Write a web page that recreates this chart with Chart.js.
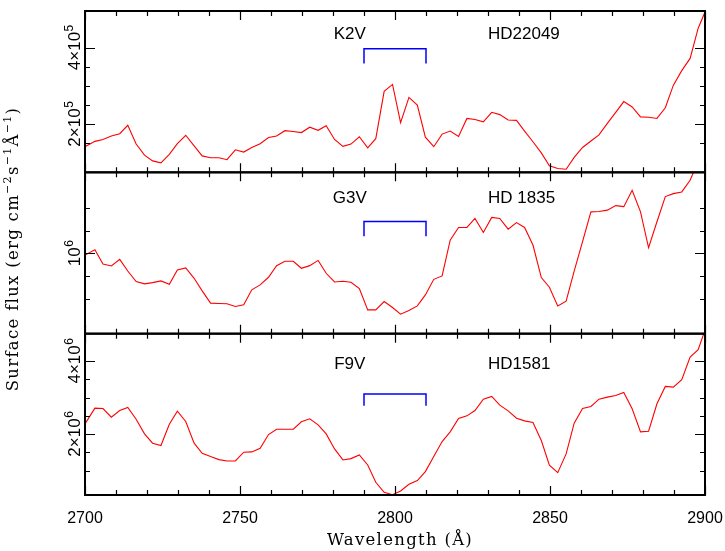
<!DOCTYPE html>
<html>
<head>
<meta charset="utf-8">
<script src="https://cdn.jsdelivr.net/npm/chart.js@4.4.1/dist/chart.umd.min.js"></script>
<style>
  html, body { margin: 0; padding: 0; background: #fff; }
  #wrap { width: 725px; height: 551px; }
</style>
</head>
<body>
<div id="wrap"><canvas id="flux" width="725" height="551"></canvas></div>
<script>
// wavelength grid shared by the three spectra (Angstrom)
const wavelength = [
  2700.0, 2703.2, 2705.8, 2708.5, 2711.2, 2713.8, 2716.5, 2719.2, 2721.8, 2724.5,
  2727.2, 2729.8, 2732.5, 2735.2, 2737.8, 2740.5, 2743.2, 2745.8, 2748.5, 2751.2,
  2753.8, 2756.5, 2759.2, 2761.8, 2764.5, 2767.2, 2769.8, 2772.5, 2775.2, 2777.8,
  2780.5, 2783.2, 2785.8, 2788.5, 2791.2, 2793.8, 2796.5, 2799.2, 2801.8, 2804.5,
  2807.2, 2809.8, 2812.5, 2815.2, 2817.8, 2820.5, 2823.2, 2825.8, 2828.5, 2831.2,
  2833.8, 2836.5, 2839.2, 2841.8, 2844.5, 2847.2, 2849.8, 2852.5, 2855.2, 2857.8,
  2860.5, 2863.2, 2865.8, 2868.5, 2871.2, 2873.8, 2876.5, 2879.2, 2881.8, 2884.5,
  2887.2, 2889.8, 2892.5, 2895.2, 2897.8, 2900.5
];
// surface flux, K2V in units of 1e5, G3V and F9V in units of 1e6
const fluxK2V = [
  1.41, 1.55, 1.60, 1.69, 1.75, 1.97, 1.48, 1.19, 1.04, 0.99,
  1.21, 1.49, 1.71, 1.43, 1.17, 1.12, 1.12, 1.07, 1.33, 1.27,
  1.39, 1.49, 1.65, 1.69, 1.83, 1.81, 1.78, 1.92, 1.84, 1.96,
  1.60, 1.42, 1.48, 1.67, 1.38, 1.62, 2.86, 3.04, 2.04, 2.70,
  2.50, 1.66, 1.41, 1.74, 1.82, 1.68, 2.15, 2.12, 2.06, 2.31,
  2.25, 2.11, 2.10, 1.82, 1.54, 1.25, 0.91, 0.84, 0.82, 1.13,
  1.39, 1.56, 1.72, 2.02, 2.31, 2.59, 2.45, 2.19, 2.18, 2.15,
  2.43, 3.02, 3.40, 3.72, 4.51, 5.03
];
const fluxG3V = [
  0.985, 1.032, 0.906, 0.889, 0.947, 0.845, 0.752, 0.732, 0.743, 0.758,
  0.729, 0.855, 0.872, 0.781, 0.671, 0.563, 0.560, 0.557, 0.534, 0.548,
  0.680, 0.723, 0.790, 0.892, 0.930, 0.930, 0.869, 0.892, 0.938, 0.825,
  0.749, 0.755, 0.746, 0.691, 0.504, 0.504, 0.577, 0.525, 0.466, 0.498,
  0.539, 0.635, 0.772, 0.802, 1.116, 1.227, 1.227, 1.306, 1.183, 1.315,
  1.306, 1.212, 1.270, 1.227, 1.073, 0.787, 0.703, 0.539, 0.580, 0.843,
  1.102, 1.364, 1.367, 1.379, 1.419, 1.410, 1.553, 1.364, 1.049, 1.277,
  1.498, 1.524, 1.539, 1.641, 1.807, 1.950
];
const fluxF9V = [
  2.282, 2.711, 2.702, 2.465, 2.647, 2.730, 2.410, 2.008, 1.753, 1.689,
  2.273, 2.629, 2.346, 1.753, 1.479, 1.387, 1.305, 1.268, 1.268, 1.506,
  1.515, 1.616, 1.990, 2.136, 2.136, 2.136, 2.337, 2.419, 2.255, 2.008,
  1.597, 1.296, 1.332, 1.433, 1.159, 0.684, 0.410, 0.346, 0.447, 0.629,
  0.730, 0.976, 1.387, 1.798, 2.063, 2.428, 2.501, 2.647, 2.958, 3.031,
  2.794, 2.638, 2.438, 2.364, 2.319, 1.826, 1.150, 0.949, 1.460, 2.301,
  2.702, 2.757, 2.958, 3.013, 3.058, 3.141, 2.693, 2.063, 2.081, 2.830,
  3.305, 3.287, 3.488, 4.109, 4.310, 4.970
];

const spectralTypes = ['K2V', 'G3V', 'F9V'];
const starNames = ['HD22049', 'HD 1835', 'HD1581'];

// Mg II h+k window bracket
const bracketX = [2790, 2810];
const bracketTop = [3.97, 1.28, 3.10];
const bracketFoot = [3.59, 1.15, 2.78];

const xTickLabels = [2700, 2750, 2800, 2850, 2900];
const yTickValues = [[2, 4], [1], [2, 4]];
const yTickLabels = [['2×10⁵', '4×10⁵'], ['10⁶'], ['2×10⁶', '4×10⁶']];
const xTitle = 'Wavelength (Å)';
const yTitleParts = [['Surface flux (erg cm', 0], ['−2', 1], ['s', 0], ['−1', 1], ['Å', 0], ['−1', 1], [')', 0]];

const panels = [
  { id: 'yTop', flux: fluxK2V, min: 0.74, max: 4.96, step: 0.5 },
  { id: 'yMid', flux: fluxG3V, min: 0.295, max: 1.711, step: 0.2 },
  { id: 'yBot', flux: fluxF9V, min: 0.337, max: 4.748, step: 0.5 }
];

const SANS = '"Liberation Sans", Arial, sans-serif';
const SERIF = '"DejaVu Serif", serif';
const SUP = { '⁰': '0', '¹': '1', '²': '2', '³': '3', '⁴': '4', '⁵': '5', '⁶': '6', '⁷': '7', '⁸': '8', '⁹': '9' };

function drawPower(ctx, text, x, y) {
  let i = text.length;
  while (i > 0 && SUP[text[i - 1]]) i--;
  const base = text.slice(0, i);
  const sup = [...text.slice(i)].map(c => SUP[c]).join('');
  ctx.font = '17px ' + SANS;
  const wb = ctx.measureText(base).width;
  ctx.font = '12px ' + SANS;
  const ws = ctx.measureText(sup).width;
  ctx.save();
  ctx.translate(x, y);
  ctx.rotate(-Math.PI / 2);
  const x0 = -(wb + ws) / 2;
  ctx.textAlign = 'left';
  ctx.textBaseline = 'alphabetic';
  ctx.font = '17px ' + SANS;
  ctx.fillText(base, x0, 0);
  ctx.font = '12px ' + SANS;
  ctx.fillText(sup, x0 + wb + 0.5, -7.5);
  ctx.restore();
}

const framePlugin = {
  id: 'frames',
  beforeDatasetDraw(chart, args) {
    const ys = chart.scales[chart.data.datasets[args.index].yAxisID];
    const a = chart.chartArea;
    chart.ctx.save();
    chart.ctx.beginPath();
    chart.ctx.rect(a.left, ys.top, a.right - a.left, ys.bottom - ys.top);
    chart.ctx.clip();
  },
  afterDatasetDraw(chart) {
    chart.ctx.restore();
  },
  afterDraw(chart) {
    const ctx = chart.ctx, a = chart.chartArea, xs = chart.scales.x;
    ctx.save();
    ctx.strokeStyle = '#000';
    ctx.fillStyle = '#000';
    panels.forEach((p, k) => {
      const ys = chart.scales[p.id];
      ctx.lineWidth = 1.2;
      ctx.beginPath();
      xs.ticks.forEach(t => {
        const px = Math.round(xs.getPixelForValue(t.value)) + 0.5;
        const len = xTickLabels.includes(t.value) ? 9 : 5;
        ctx.moveTo(px, ys.top); ctx.lineTo(px, ys.top + len);
        ctx.moveTo(px, ys.bottom); ctx.lineTo(px, ys.bottom - len);
      });
      ys.ticks.forEach(t => {
        const n = t.value / p.step;
        if (Math.abs(n - Math.round(n)) > 1e-6) return;
        const py = Math.round(ys.getPixelForValue(t.value)) + 0.5;
        const major = yTickValues[k].some(v => Math.abs(v - t.value) < 1e-6);
        const len = major ? 10 : 5;
        ctx.moveTo(a.left, py); ctx.lineTo(a.left + len, py);
        ctx.moveTo(a.right, py); ctx.lineTo(a.right - len, py);
      });
      ctx.stroke();
      ctx.lineWidth = 2;
      ctx.strokeRect(a.left, ys.top, a.right - a.left, ys.bottom - ys.top);

      yTickValues[k].forEach((v, j) => {
        drawPower(ctx, yTickLabels[k][j], a.left - 5, ys.getPixelForValue(v));
      });

      // star labels
      const ly = ys.getPixelForValue([4.385, 1.495, 3.945][k]) + 6;
      ctx.font = '17px ' + SANS;
      ctx.textBaseline = 'alphabetic';
      ctx.textAlign = 'center';
      ctx.fillText(spectralTypes[k], xs.getPixelForValue(2785.4), ly);
      ctx.textAlign = 'left';
      ctx.fillText(starNames[k], xs.getPixelForValue(2830), ly);
    });

    // axis titles
    ctx.letterSpacing = '1.3px';
    ctx.font = '16.5px ' + SERIF;
    ctx.textAlign = 'center';
    ctx.textBaseline = 'alphabetic';
    ctx.fillText(xTitle, (a.left + a.right) / 2 + 5, 545);

    ctx.save();
    ctx.translate(18, 249);
    ctx.rotate(-Math.PI / 2);
    let total = 0;
    yTitleParts.forEach(([s, sup]) => {
      ctx.font = (sup ? '11px ' : '16.5px ') + SERIF;
      total += ctx.measureText(s).width;
    });
    let cx = -total / 2;
    ctx.textAlign = 'left';
    yTitleParts.forEach(([s, sup]) => {
      ctx.font = (sup ? '11px ' : '16.5px ') + SERIF;
      ctx.fillText(s, cx, sup ? -7 : 0);
      cx += ctx.measureText(s).width;
    });
    ctx.restore();
    ctx.restore();
  }
};

const datasets = [];
panels.forEach((p, k) => {
  datasets.push({
    data: wavelength.map((w, i) => ({ x: w, y: p.flux[i] })),
    yAxisID: p.id,
    borderColor: '#ff0000',
    borderWidth: 1.1,
    pointRadius: 0,
    tension: 0,
    fill: false
  });
  datasets.push({
    data: [
      { x: bracketX[0], y: bracketFoot[k] },
      { x: bracketX[0], y: bracketTop[k] },
      { x: bracketX[1], y: bracketTop[k] },
      { x: bracketX[1], y: bracketFoot[k] }
    ],
    yAxisID: p.id,
    borderColor: '#0000ff',
    borderWidth: 1.5,
    pointRadius: 0,
    tension: 0,
    fill: false
  });
});

function yScale(p) {
  return {
    type: 'linear',
    position: 'left',
    stack: 'flux',
    stackWeight: 1,
    min: p.min,
    max: p.max,
    afterFit: s => { s.width = 85; s.paddingTop = 0; s.paddingBottom = 0; },
    ticks: { display: false, stepSize: p.step },
    grid: { display: false },
    border: { display: false }
  };
}

new Chart(document.getElementById('flux'), {
  type: 'line',
  data: { datasets: datasets },
  options: {
    responsive: false,
    animation: false,
    layout: { padding: { top: 11, right: 20, bottom: 0, left: 0 } },
    plugins: { legend: { display: false }, tooltip: { enabled: false } },
    scales: {
      x: {
        type: 'linear',
        position: 'bottom',
        min: 2700,
        max: 2900,
        afterFit: s => { s.height = 56; s.paddingLeft = 0; s.paddingRight = 0; },
        ticks: {
          stepSize: 10,
          autoSkip: false,
          maxRotation: 0,
          padding: 6,
          color: '#000',
          font: { family: SANS, size: 16 },
          callback: v => xTickLabels.includes(v) ? String(v) : ''
        },
        grid: { display: false },
        border: { display: false }
      },
      // stacked panels: the last one defined sits on top
      yBot: yScale(panels[2]),
      yMid: yScale(panels[1]),
      yTop: yScale(panels[0])
    }
  },
  plugins: [framePlugin]
});
</script>
</body>
</html>
